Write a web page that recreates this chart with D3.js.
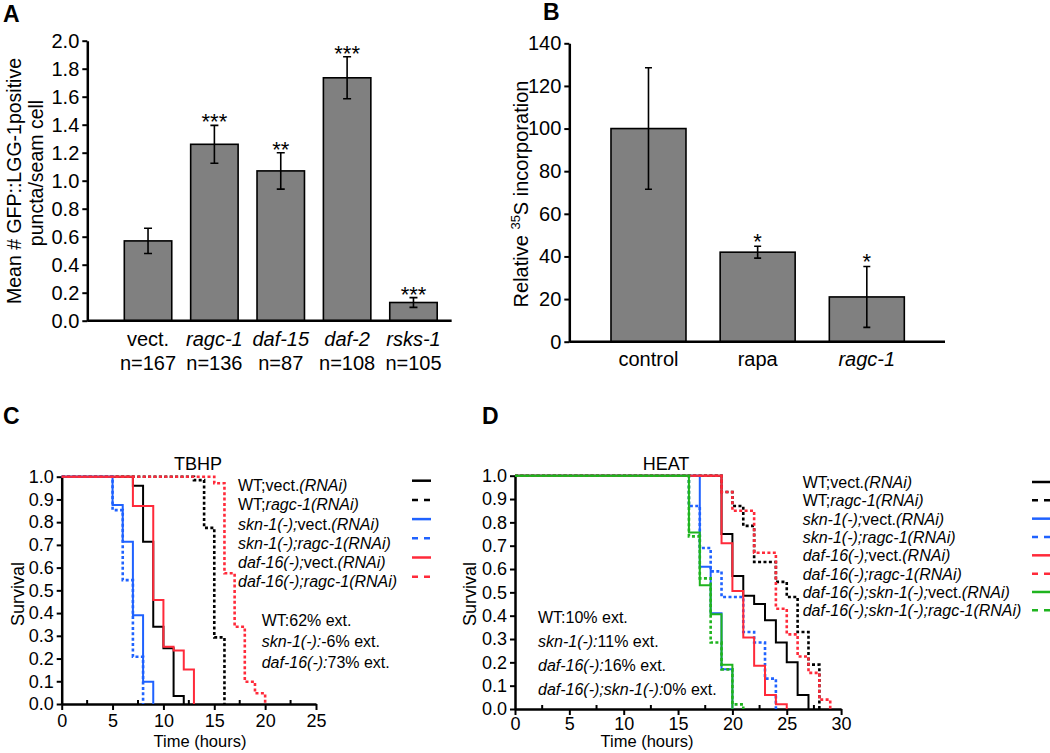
<!DOCTYPE html>
<html><head><meta charset="utf-8">
<script src="https://cdn.jsdelivr.net/npm/d3@7"></script>
<style>
body{margin:0;background:#fff;}
svg text{font-family:"Liberation Sans",Arial,Helvetica,sans-serif;fill:#000;}
</style></head><body>
<svg id="fig" width="1050" height="753"></svg>
<script>
// ---------- Panel A data ----------
const catsA = ["vect.", "*ragc-1*", "*daf-15*", "*daf-2*", "*rsks-1*"];
const nA = ["n=167", "n=136", "n=87", "n=108", "n=105"];
const valuesA = [0.57, 1.26, 1.07, 1.735, 0.13];
const errorsA = [0.09, 0.135, 0.13, 0.15, 0.035];
const starsA = ["", "***", "**", "***", "***"];
const ticksA = [0, 0.2, 0.4, 0.6, 0.8, 1.0, 1.2, 1.4, 1.6, 1.8, 2.0];

// ---------- Panel B data ----------
const catsB = ["control", "rapa", "*ragc-1*"];
const valuesB = [100, 42, 21];
const errorsB = [28.5, 2.8, 14.3];
const starsB = ["", "*", "*"];
const ticksB = [0, 20, 40, 60, 80, 100, 120, 140];

// ---------- Panel C data (TBHP) ----------
const survTicks = [0, 0.1, 0.2, 0.3, 0.4, 0.5, 0.6, 0.7, 0.8, 0.9, 1.0];
const ticksCx = [0, 5, 10, 15, 20, 25];
const minorCx = [2.5, 7.5, 12.5, 17.5, 22.5];
const cWTvectT = [0, 7, 8, 9, 10, 11, 12];
const cWTvectS = [1, 0.96, 0.714, 0.34, 0.245, 0.035, 0];
const cWTragcT = [0, 13, 14, 15, 16];
const cWTragcS = [1, 0.985, 0.775, 0.293, 0];
const cSknVectT = [0, 5, 6, 7, 8, 9];
const cSknVectS = [1, 0.875, 0.714, 0.39, 0.098, 0];
const cSknRagcT = [0, 5, 6, 7, 8];
const cSknRagcS = [1, 0.853, 0.545, 0.208, 0];
const cDafVectT = [0, 7, 9, 10, 11, 12, 13];
const cDafVectS = [1, 0.871, 0.457, 0.252, 0.235, 0.152, 0];
const cDafRagcT = [0, 15, 16, 17, 18, 19, 20];
const cDafRagcS = [1, 0.971, 0.575, 0.34, 0.098, 0.047, 0];
const legendC = ["WT;vect.*(RNAi)*", "WT;*ragc-1(RNAi)*", "*skn-1(-);*vect.*(RNAi)*",
  "*skn-1(-);ragc-1(RNAi)*", "*daf-16(-);*vect.*(RNAi)*", "*daf-16(-);ragc-1(RNAi)*"];
const statsC = ["WT:62% ext.", "*skn-1(-):*-6% ext.", "*daf-16(-):*73% ext."];

// ---------- Panel D data (HEAT) ----------
const ticksDx = [0, 5, 10, 15, 20, 25, 30];
const minorDx = [2.5, 7.5, 12.5, 17.5, 22.5, 27.5];
const dWTvectT = [0, 19, 20, 21, 22, 23, 24, 25, 26, 27];
const dWTvectS = [1, 0.75, 0.57, 0.485, 0.45, 0.38, 0.285, 0.2, 0.06, 0];
const dWTragcT = [0, 19, 20, 21, 22, 24, 25, 26, 27, 28];
const dWTragcS = [1, 0.93, 0.87, 0.785, 0.63, 0.545, 0.48, 0.33, 0.19, 0];
const dSknVectT = [0, 17, 18, 19, 20];
const dSknVectS = [1, 0.61, 0.41, 0.17, 0];
const dSknRagcT = [0, 16, 17, 18, 19, 21, 22, 23, 24];
const dSknRagcS = [1, 0.87, 0.69, 0.59, 0.48, 0.33, 0.285, 0.13, 0];
const dDafVectT = [0, 19, 20, 21, 22, 23, 24, 25];
const dDafVectS = [1, 0.71, 0.506, 0.306, 0.185, 0.06, 0.02, 0];
const dDafRagcT = [0, 19, 20, 22, 24, 25, 26, 27, 28, 29];
const dDafRagcS = [1, 0.93, 0.85, 0.67, 0.43, 0.32, 0.225, 0.155, 0.04, 0];
const dDsVectT = [0, 16, 17, 18, 19, 20];
const dDsVectS = [1, 0.757, 0.53, 0.406, 0.19, 0];
const dDsRagcT = [0, 16, 17, 18, 19, 20, 21];
const dDsRagcS = [1, 0.74, 0.56, 0.285, 0.17, 0.02, 0];
const legendD = ["WT;vect.*(RNAi)*", "WT;*ragc-1(RNAi)*", "*skn-1(-);*vect.*(RNAi)*",
  "*skn-1(-);ragc-1(RNAi)*", "*daf-16(-);*vect.*(RNAi)*", "*daf-16(-);ragc-1(RNAi)*",
  "*daf-16(-);skn-1(-);*vect.*(RNAi)*", "*daf-16(-);skn-1(-);ragc-1(RNAi)*"];
const statsD = ["WT:10% ext.", "*skn-1(-):*11% ext.", "*daf-16(-):*16% ext.", "*daf-16(-);skn-1(-):*0% ext."];

const BLACK = "#000000", BLUE = "#1f62ff", RED = "#ff2a3a", GREEN = "#1fb41f";
const FONT = '"Liberation Sans",Arial,Helvetica,sans-serif';

const svg = d3.select("#fig");

function richText(g, x, y, markup, size, anchor) {
  const t = g.append("text").attr("x", x).attr("y", y).attr("font-size", size)
    .attr("text-anchor", anchor || "start");
  markup.split("*").forEach((seg, i) => {
    if (!seg) return;
    t.append("tspan").attr("font-style", i % 2 ? "italic" : "normal").text(seg);
  });
  return t;
}
function styleAxis(g, fs) {
  g.attr("font-size", fs).attr("font-family", FONT);
  g.select(".domain").attr("stroke", "#000").attr("stroke-width", 2.5);
  g.selectAll(".tick line").attr("stroke", "#000").attr("stroke-width", 2);
  g.selectAll(".tick text").attr("fill", "#000");
}
function panelLabel(x, y, s) {
  svg.append("text").attr("x", x).attr("y", y).attr("font-size", 23)
    .attr("font-weight", "bold").text(s);
}

// ================= Panel A =================
{
  const g = svg.append("g");
  const y = d3.scaleLinear().domain([0, 2]).range([320.7, 40.7]);
  const x = d3.scaleBand().domain(catsA).range([114.85, 446.65]).paddingInner(0.285).paddingOuter(0.1425);
  const ax = g.append("g").attr("transform", "translate(87.3,0)")
    .call(d3.axisLeft(y).tickValues(ticksA).tickFormat(d3.format(".1f")).tickSize(5).tickPadding(3).tickSizeOuter(0));
  styleAxis(ax, 20);
  g.selectAll("rect.bar").data(catsA).join("rect")
    .attr("x", d => x(d)).attr("width", x.bandwidth())
    .attr("y", (d, i) => y(valuesA[i])).attr("height", (d, i) => y(0) - y(valuesA[i]))
    .attr("fill", "#808080").attr("stroke", "#000").attr("stroke-width", 1.6);
  catsA.forEach((c, i) => {
    const cx = x(c) + x.bandwidth() / 2;
    const hi = y(valuesA[i] + errorsA[i]), lo = y(valuesA[i] - errorsA[i]);
    g.append("path").attr("d", `M${cx},${hi}V${lo}M${cx - 4},${hi}H${cx + 4}M${cx - 4},${lo}H${cx + 4}`)
      .attr("stroke", "#000").attr("stroke-width", 1.6).attr("fill", "none");
    if (starsA[i]) g.append("text").attr("x", cx).attr("y", hi + 4).attr("font-size", 22)
      .attr("text-anchor", "middle").text(starsA[i]);
    richText(g, cx, 346, c, 20, "middle");
    richText(g, cx, 370, nA[i], 20, "middle");
  });
  g.append("line").attr("x1", 87.3).attr("x2", x.range()[1] + 5).attr("y1", y(0)).attr("y2", y(0))
    .attr("stroke", "#000").attr("stroke-width", 2.5);
  g.append("text").attr("transform", "translate(21,181) rotate(-90)").attr("text-anchor", "middle")
    .attr("font-size", 19.5).text("Mean # GFP::LGG-1positive");
  g.append("text").attr("transform", "translate(43,173) rotate(-90)").attr("text-anchor", "middle")
    .attr("font-size", 19.5).text("puncta/seam cell");
  panelLabel(3, 22, "A");
}

// ================= Panel B =================
{
  const g = svg.append("g");
  const y = d3.scaleLinear().domain([0, 140]).range([341.7, 43.3]);
  const x = d3.scaleBand().domain(catsB).range([593.9, 921.4]).paddingInner(0.313).paddingOuter(0.1565);
  const ax = g.append("g").attr("transform", "translate(569.3,0)")
    .call(d3.axisLeft(y).tickValues(ticksB).tickSize(5).tickPadding(3).tickSizeOuter(0));
  styleAxis(ax, 20);
  g.selectAll("rect.bar").data(catsB).join("rect")
    .attr("x", d => x(d)).attr("width", x.bandwidth())
    .attr("y", (d, i) => y(valuesB[i])).attr("height", (d, i) => y(0) - y(valuesB[i]))
    .attr("fill", "#808080").attr("stroke", "#000").attr("stroke-width", 1.6);
  catsB.forEach((c, i) => {
    const cx = x(c) + x.bandwidth() / 2;
    const hi = y(valuesB[i] + errorsB[i]), lo = y(valuesB[i] - errorsB[i]);
    g.append("path").attr("d", `M${cx},${hi}V${lo}M${cx - 3.5},${hi}H${cx + 3.5}M${cx - 3.5},${lo}H${cx + 3.5}`)
      .attr("stroke", "#000").attr("stroke-width", 1.6).attr("fill", "none");
    if (starsB[i]) g.append("text").attr("x", cx).attr("y", hi + 3).attr("font-size", 22)
      .attr("text-anchor", "middle").text(starsB[i]);
    richText(g, cx, 366, c, 20, "middle");
  });
  g.append("line").attr("x1", 569.3).attr("x2", 945).attr("y1", y(0)).attr("y2", y(0))
    .attr("stroke", "#000").attr("stroke-width", 2.5);
  const lab = g.append("text").attr("transform", "translate(528,194) rotate(-90)")
    .attr("text-anchor", "middle").attr("font-size", 20);
  lab.append("tspan").text("Relative ");
  lab.append("tspan").attr("font-size", 13).attr("dy", -8).text("35");
  lab.append("tspan").attr("dy", 8).text("S incorporation");
  panelLabel(543, 20, "B");
}

// ================= Survival panel helper =================
function survivalPanel(cfg) {
  const g = svg.append("g");
  const x = d3.scaleLinear().domain(cfg.xdom).range(cfg.xr);
  const y = d3.scaleLinear().domain([0, 1]).range(cfg.yr);
  const ya = g.append("g").attr("transform", `translate(${cfg.xr[0]},0)`)
    .call(d3.axisLeft(y).tickValues(survTicks).tickFormat(d3.format(".1f")).tickSize(5).tickPadding(3).tickSizeOuter(0));
  styleAxis(ya, 18);
  const xa = g.append("g").attr("transform", `translate(0,${cfg.yr[0]})`)
    .call(d3.axisBottom(x).tickValues(cfg.ticks).tickSize(6).tickPadding(cfg.tickPad).tickSizeOuter(0));
  styleAxis(xa, 18);
  cfg.minor.forEach(t => g.append("line").attr("x1", x(t)).attr("x2", x(t))
    .attr("y1", cfg.yr[0]).attr("y2", cfg.yr[0] - 4).attr("stroke", "#000").attr("stroke-width", 2));
  const line = d3.line().x(d => x(d[0])).y(d => y(d[1])).curve(d3.curveStepAfter);
  cfg.series.forEach(s => {
    g.append("path").datum(d3.zip(s.t, s.s)).attr("d", line).attr("fill", "none")
      .attr("stroke", s.color).attr("stroke-width", s.dashed ? 2.6 : 2)
      .attr("stroke-dasharray", s.dashed ? "3,2.4" : null);
  });
  // legend
  cfg.legend.forEach((lab, i) => {
    const s = cfg.series[i];
    const ly = cfg.legY + i * cfg.legStep;
    richText(g, cfg.legTextX, ly + cfg.legTextDy, lab, 16);
    g.append("line").attr("x1", cfg.legLineX[0]).attr("x2", cfg.legLineX[1]).attr("y1", ly).attr("y2", ly)
      .attr("stroke", s.color).attr("stroke-width", 2.5).attr("stroke-dasharray", s.dashed ? "6,6" : null);
  });
  cfg.stats.forEach((st, i) => richText(g, cfg.statX, cfg.statY + i * cfg.statStep, st, 16));
  g.append("text").attr("x", cfg.titleX).attr("y", 470).attr("text-anchor", "middle").attr("font-size", 18).text(cfg.title);
  g.append("text").attr("transform", `translate(${cfg.survX},594) rotate(-90)`).attr("text-anchor", "middle")
    .attr("font-size", 18).text("Survival");
  g.append("text").attr("x", cfg.timeX).attr("y", 747).attr("text-anchor", "middle").attr("font-size", 16.5).text("Time (hours)");
}

survivalPanel({
  xdom: [0, 25], xr: [61.7, 316], yr: [704, 476.7], ticks: ticksCx, minor: minorCx, tickPad: 4,
  series: [
    {t: cWTvectT, s: cWTvectS, color: BLACK, dashed: false},
    {t: cWTragcT, s: cWTragcS, color: BLACK, dashed: true},
    {t: cSknVectT, s: cSknVectS, color: BLUE, dashed: false},
    {t: cSknRagcT, s: cSknRagcS, color: BLUE, dashed: true},
    {t: cDafVectT, s: cDafVectS, color: RED, dashed: false},
    {t: cDafRagcT, s: cDafRagcS, color: RED, dashed: true}
  ],
  legend: legendC, legY: 480.7, legStep: 19.2, legTextX: 238, legTextDy: 10.5, legLineX: [412, 431],
  stats: statsC, statX: 261.7, statY: 626, statStep: 21,
  title: "TBHP", titleX: 198, survX: 24, timeX: 200
});
panelLabel(3, 424, "C");

survivalPanel({
  xdom: [0, 30], xr: [515, 841.1], yr: [709, 475.7], ticks: ticksDx, minor: minorDx, tickPad: 2,
  series: [
    {t: dWTvectT, s: dWTvectS, color: BLACK, dashed: false},
    {t: dWTragcT, s: dWTragcS, color: BLACK, dashed: true},
    {t: dSknVectT, s: dSknVectS, color: BLUE, dashed: false},
    {t: dSknRagcT, s: dSknRagcS, color: BLUE, dashed: true},
    {t: dDafVectT, s: dDafVectS, color: RED, dashed: false},
    {t: dDafRagcT, s: dDafRagcS, color: RED, dashed: true},
    {t: dDsVectT, s: dDsVectS, color: GREEN, dashed: false},
    {t: dDsRagcT, s: dDsRagcS, color: GREEN, dashed: true}
  ],
  legend: legendD, legY: 482, legStep: 18.33, legTextX: 802.7, legTextDy: 6, legLineX: [1032, 1052],
  stats: statsD, statX: 538, statY: 623, statStep: 24,
  title: "HEAT", titleX: 666, survX: 476, timeX: 647
});
panelLabel(482, 424, "D");
</script>
</body></html>
